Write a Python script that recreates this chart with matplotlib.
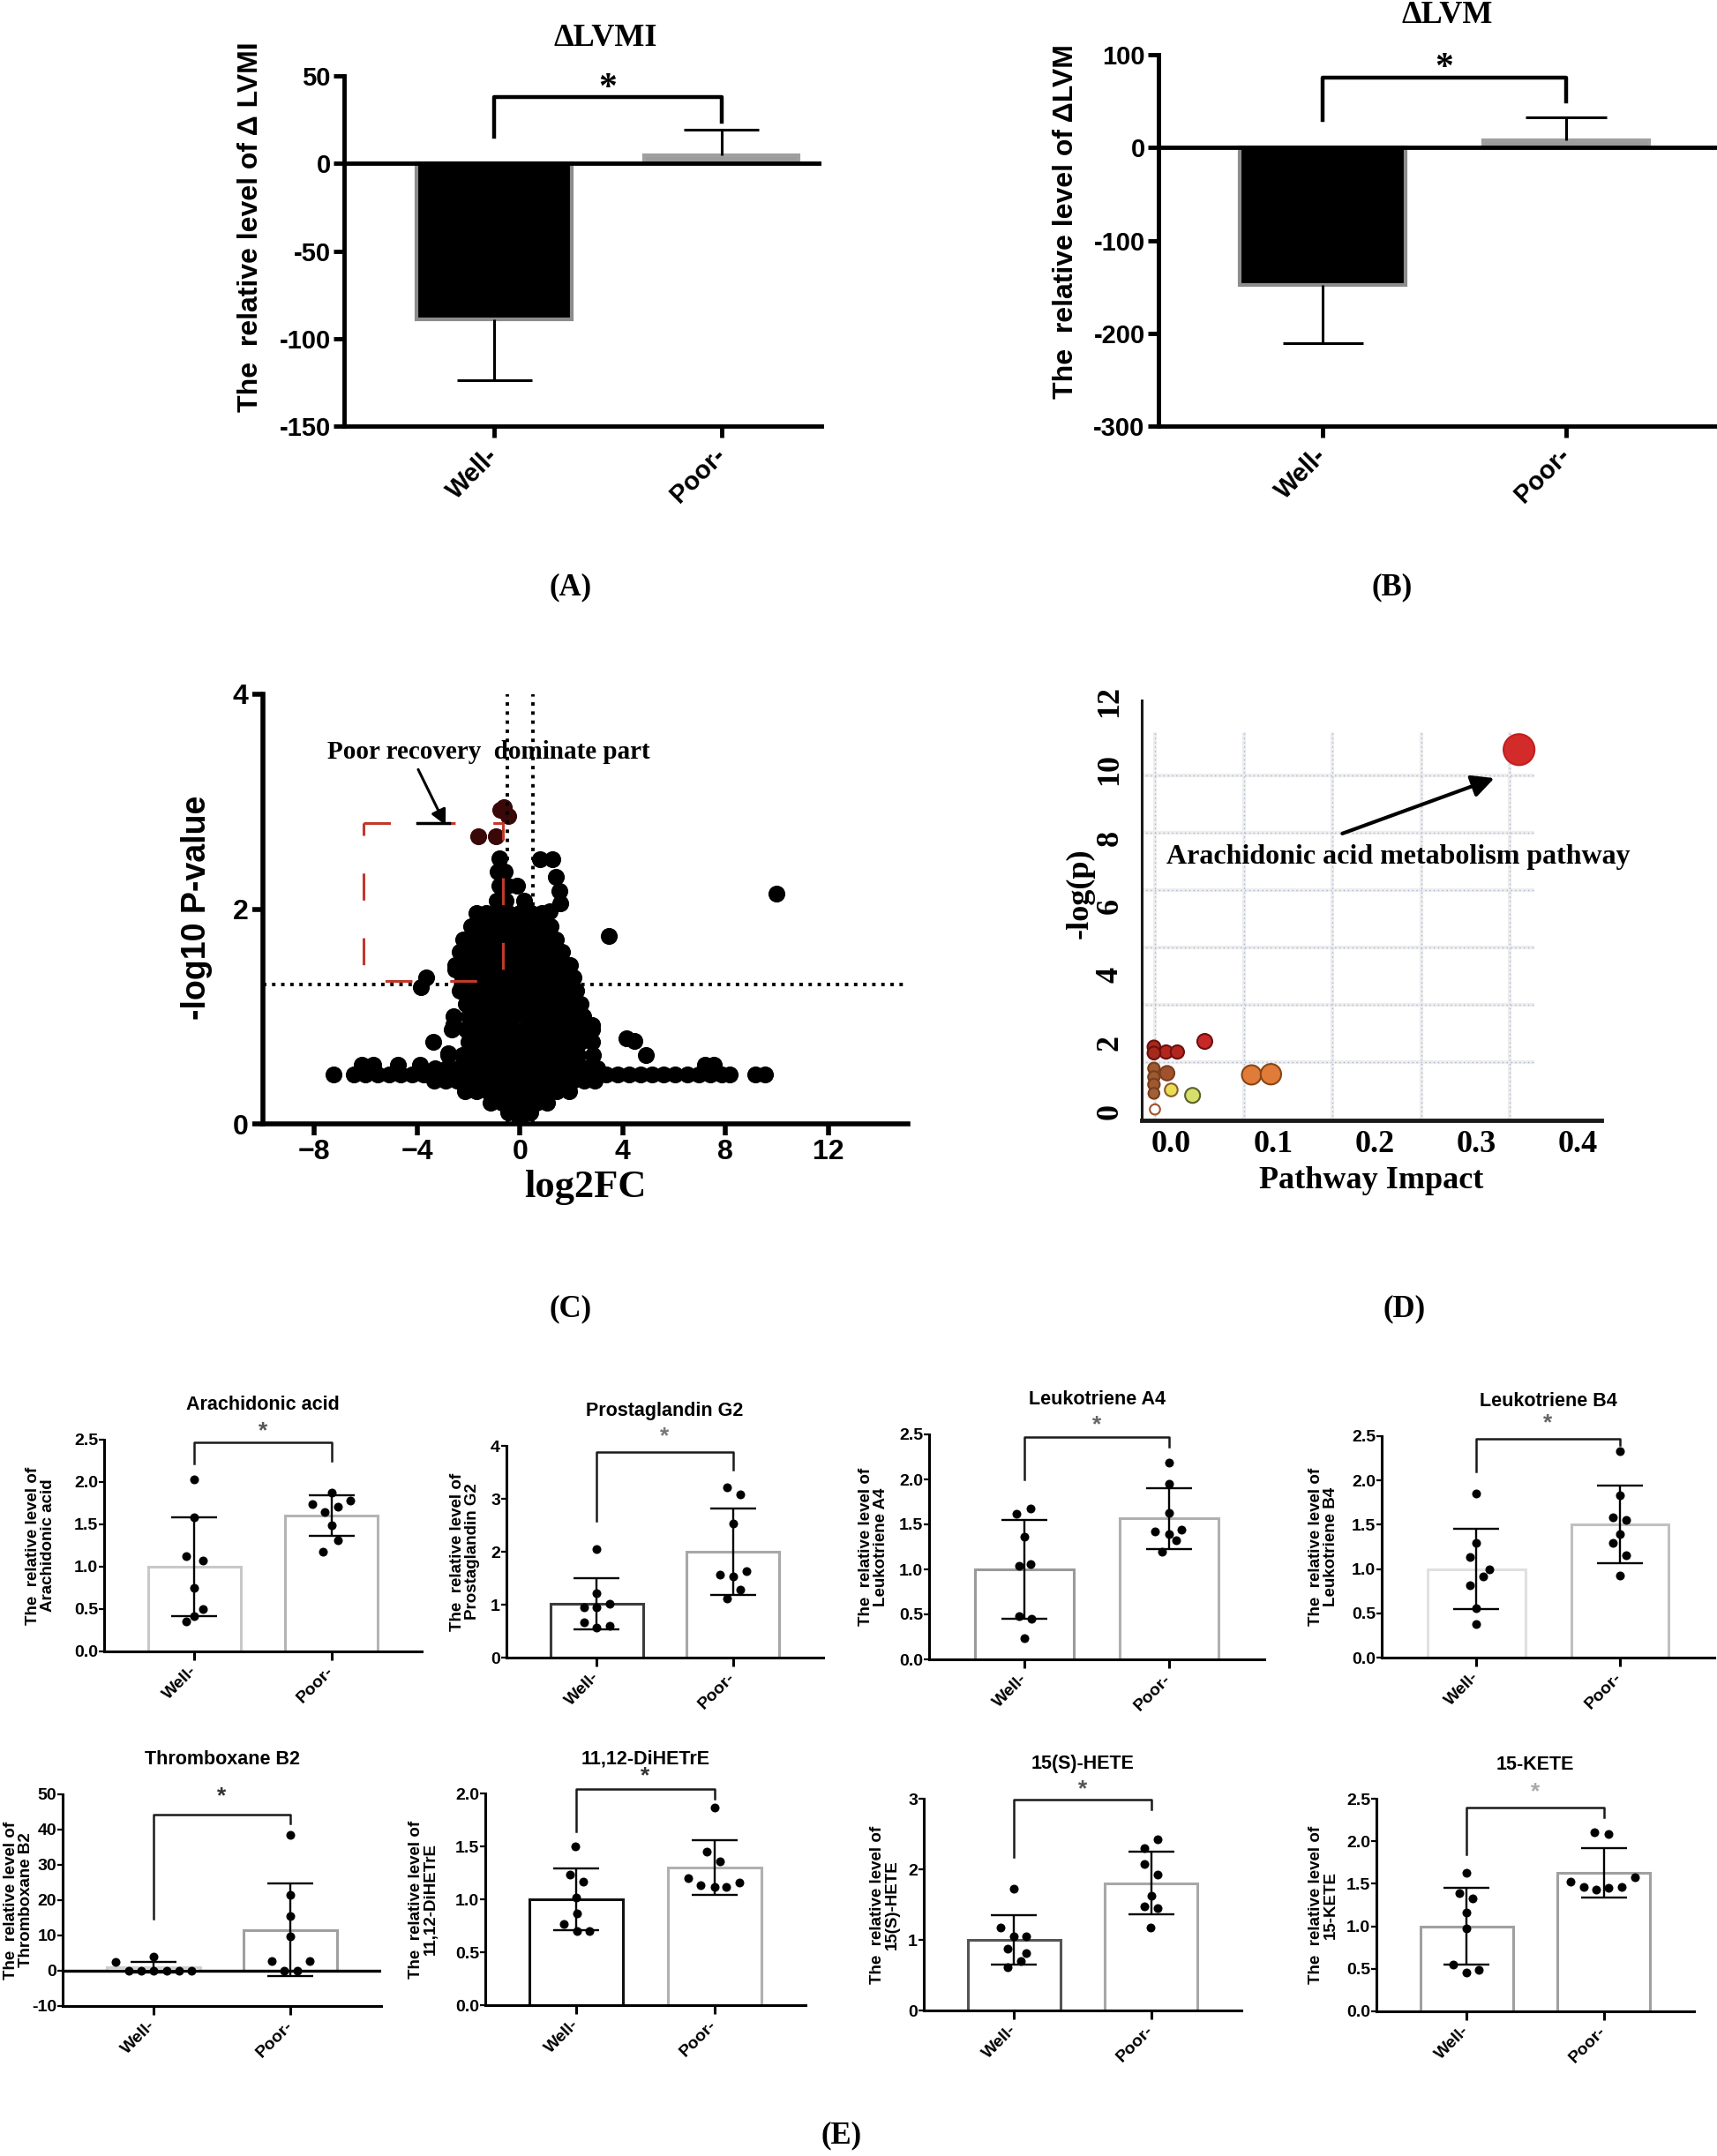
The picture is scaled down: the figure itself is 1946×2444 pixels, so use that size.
import numpy as np
import matplotlib
matplotlib.use("Agg")
import matplotlib.pyplot as plt

W, H = 1946, 2444
SANS = ["Liberation Sans", "DejaVu Sans"]
SERIF = ["Liberation Serif", "DejaVu Serif"]
plt.rcParams["font.family"] = SANS
plt.rcParams["font.weight"] = "bold"

# ======================= DATA =======================
groups = ["Well-", "Poor-"]

# (A) delta LVMI
lvmi_mean = [-89.0, 4.6]
lvmi_err = [35.0, 14.5]
# (B) delta LVM
lvm_mean = [-148.0, 7.5]
lvm_err = [63.0, 25.0]

# (C) volcano plot: rows of log2FC values that share one -log10 P value
volcano_rows = [
    (2.47, [-0.80]),
    (2.35, [-0.85, -0.60]),
    (2.22, [-0.80, -0.50, -0.10]),
    (2.08, [-0.90, -0.55, 0.15]),
    (1.96, [-1.70, -1.30, -0.90, -0.45, 0.00, 0.45, 0.85]),
    (1.84, [-1.90, -1.45, -1.00, -0.55, -0.10, 0.35, 0.80, 1.20]),
    (1.72, [-2.20, -1.75, -1.30, -0.85, -0.40, 0.05, 0.50, 0.95, 1.40]),
    (1.60, [-2.35, -1.90, -1.45, -1.00, -0.55, -0.10, 0.35, 0.80, 1.25, 1.65]),
    (1.48, [-2.50, -2.05, -1.60, -1.15, -0.70, -0.25, 0.20, 0.65, 1.10, 1.55, 1.95]),
    (1.36, [-2.25, -1.80, -1.35, -0.90, -0.45, 0.00, 0.45, 0.90, 1.35, 1.80, 2.10]),
    (1.24, [-2.35, -1.90, -1.45, -1.00, -0.55, -0.10, 0.35, 0.80, 1.25, 1.70, 2.20]),
    (1.12, [-2.10, -1.65, -1.20, -0.75, -0.30, 0.15, 0.60, 1.05, 1.50, 1.95, 2.35]),
    (1.00, [-2.60, -2.00, -1.55, -1.10, -0.65, -0.20, 0.25, 0.70, 1.15, 1.60, 2.05, 2.45]),
    (0.88, [-2.65, -2.10, -1.65, -1.20, -0.75, -0.30, 0.15, 0.60, 1.05, 1.50, 1.95, 2.40, 2.80]),
    (0.76, [-3.37, -2.00, -1.55, -1.10, -0.65, -0.20, 0.25, 0.70, 1.15, 1.60, 2.05, 2.35, 2.80]),
    (0.64, [-2.80, -2.25, -1.80, -1.35, -0.90, -0.45, 0.00, 0.45, 0.90, 1.35, 1.80, 2.25, 2.85]),
    (0.55, [-6.15, -5.70, -4.75, -3.90, 7.20, 7.55]),
    (0.52, [-3.30, -2.85, -2.40, -1.95, -1.50, -1.05, -0.60, -0.15, 0.30, 0.75, 1.20, 1.65,
            2.10, 2.55, 3.00]),
    (0.46, [-7.25, -6.45, -6.00, -5.55, -5.10, -4.65, -4.20, -3.75, 3.35, 3.80, 4.25, 4.70,
            5.15, 5.60, 6.05, 6.50, 6.95, 7.40, 7.85, 8.15, 9.15, 9.55]),
    (0.40, [-3.35, -2.90, -2.45, -2.00, -1.55, -1.10, -0.65, -0.20, 0.25, 0.70, 1.15, 1.60,
            2.05, 2.50, 2.90]),
    (0.30, [-2.15, -1.70, -1.25, -0.80, -0.35, 0.10, 0.55, 1.00, 1.45, 1.90]),
    (0.20, [-1.15, -0.70, -0.25, 0.20, 0.65, 1.05]),
    (0.11, [-0.45, 0.00, 0.40]),
    (0.03, [0.00]),
]
volcano_extra_x = [-3.65, -3.85, 3.46, 10.0, 4.13, 4.45, 4.90, -2.80, -2.60, -2.50,
                   0.77, 1.25, 1.40, 1.52, 1.58, 1.15, 0.19, 2.80]
volcano_extra_y = [1.36, 1.27, 1.75, 2.14, 0.80, 0.77, 0.64, 0.66, 0.93, 1.44,
                   2.46, 2.46, 2.30, 2.17, 2.05, 1.98, 2.02, 0.92]
volcano_top_x = [-1.63, -0.92, -0.77, -0.62, -0.45]
volcano_top_y = [2.68, 2.68, 2.92, 2.95, 2.87]
fc_cut = [-0.5, 0.5]
p_cut = 1.3

# (D) pathway analysis
path_impact = [0.342, 0.033, -0.005, 0.006, -0.017, -0.017, -0.004, -0.017, -0.017,
               -0.017, -0.017, 0.000, 0.021, 0.079, 0.098, -0.016]
path_logp = [10.58, 2.04, 1.73, 1.73, 1.88, 1.70, 1.11, 1.25, 1.00,
             0.78, 0.52, 0.62, 0.46, 1.06, 1.08, 0.05]
path_colors = ["#d32a2a", "#c62828", "#b3261e", "#b3261e", "#a52a1a", "#a52a1a", "#a0522d",
               "#9c5a2e", "#9c5a2e", "#9c5a2e", "#a0603a", "#e8de55", "#d4e06a", "#e07b39",
               "#e07b39", "white"]
path_edges = ["#c02020", "#6d1010", "#6d1010", "#6d1010", "#6d1010", "#6d1010", "#7a3d1f",
              "#7a3d1f", "#7a3d1f", "#7a3d1f", "#7a3d1f", "#8b5a2b", "#5e5e2e", "#8b4513",
              "#8b4513", "#a0522d"]
path_sizes = [640, 150, 120, 120, 110, 110, 140, 90, 90, 90, 80, 110, 150, 250, 280, 70]

# (E) individual metabolites
e_titles = ["Arachidonic acid", "Prostaglandin G2", "Leukotriene A4", "Leukotriene B4",
            "Thromboxane B2", "11,12-DiHETrE", "15(S)-HETE", "15-KETE"]
e_ylabels = ["The  relative level of\nArachidonic acid",
             "The  relative level of\nProstaglandin G2",
             "The  relative level of\nLeukotriene A4",
             "The  relative level of\nLeukotriene B4",
             "The  relative level of\nThromboxane B2",
             "The  relative level of\n11,12-DiHETrE",
             "The  relative level of\n15(S)-HETE",
             "The  relative level of\n15-KETE"]
e_well_mean = [1.00, 1.02, 1.00, 1.00, 1.0, 1.00, 1.00, 1.00]
e_well_sd = [0.58, 0.48, 0.55, 0.455, 1.4, 0.29, 0.35, 0.45]
e_poor_mean = [1.60, 2.00, 1.565, 1.505, 11.6, 1.30, 1.805, 1.63]
e_poor_sd = [0.24, 0.815, 0.335, 0.435, 13.2, 0.26, 0.445, 0.29]
e_well_pts = [
    [2.03, 1.58, 1.12, 1.07, 0.75, 0.50, 0.35, 0.42],
    [2.05, 1.21, 0.95, 0.95, 1.02, 0.67, 0.57, 0.60],
    [1.62, 1.68, 1.36, 1.04, 1.06, 0.48, 0.45, 0.24],
    [1.85, 1.29, 1.14, 1.00, 0.92, 0.82, 0.56, 0.38],
    [2.4, 3.9, 0.1, 0.1, 0.1, 0.1, 0.1, 0.1],
    [1.50, 1.23, 1.17, 1.02, 0.87, 0.77, 0.70, 0.70],
    [1.72, 1.18, 1.05, 1.05, 0.87, 0.81, 0.70, 0.61],
    [1.63, 1.39, 1.33, 1.16, 0.98, 0.55, 0.46, 0.49],
]
e_well_jit = [
    [0.0, 0.0, -0.06, 0.06, 0.0, 0.06, -0.06, 0.0],
    [0.0, 0.0, -0.092, 0.0, 0.095, -0.092, 0.0, 0.095],
    [-0.053, 0.04, 0.0, -0.04, 0.04, -0.04, 0.05, 0.0],
    [0.0, 0.0, -0.047, 0.09, 0.045, -0.047, 0.0, 0.0],
    [-0.275, 0.0, -0.18, -0.09, 0.0, 0.097, 0.19, 0.28],
    [-0.01, -0.045, 0.047, 0.0, 0.004, -0.092, 0.004, 0.095],
    [0.0, -0.097, 0.0, 0.09, -0.05, 0.09, 0.048, -0.05],
    [0.0, -0.054, 0.043, 0.0, 0.0, -0.097, 0.0, 0.09],
]
e_poor_pts = [
    [1.88, 1.78, 1.74, 1.71, 1.65, 1.49, 1.31, 1.18],
    [3.21, 3.09, 2.53, 1.56, 1.54, 1.64, 1.29, 1.11],
    [2.19, 1.95, 1.63, 1.42, 1.44, 1.39, 1.32, 1.20],
    [2.33, 1.83, 1.58, 1.55, 1.39, 1.29, 1.16, 0.93],
    [38.5, 21.4, 15.5, 9.8, 2.8, 2.8, 0.0, 0.0],
    [1.87, 1.45, 1.36, 1.20, 1.13, 1.12, 1.12, 1.16],
    [2.43, 2.30, 2.07, 1.93, 1.62, 1.47, 1.45, 1.18],
    [2.11, 2.08, 1.52, 1.58, 1.46, 1.43, 1.45, 1.46],
]
e_poor_jit = [
    [0.0, 0.14, -0.14, 0.05, -0.05, 0.0, 0.05, -0.06],
    [-0.047, 0.05, 0.0, -0.095, 0.0, 0.097, 0.05, -0.047],
    [0.0, 0.0, 0.0, -0.10, 0.086, 0.0, 0.047, -0.047],
    [0.0, 0.0, -0.047, 0.047, 0.0, -0.047, 0.047, 0.0],
    [0.0, 0.0, 0.0, 0.0, -0.135, 0.14, -0.047, 0.047],
    [0.0, -0.054, 0.04, -0.19, -0.10, 0.0, 0.086, 0.18],
    [0.048, -0.048, -0.048, 0.048, 0.0, -0.048, 0.048, -0.006],
    [-0.065, 0.037, -0.243, 0.226, -0.148, -0.058, 0.037, 0.13],
]
e_yticks = [[0, 0.5, 1.0, 1.5, 2.0, 2.5], [0, 1, 2, 3, 4], [0, 0.5, 1.0, 1.5, 2.0, 2.5],
            [0, 0.5, 1.0, 1.5, 2.0, 2.5], [-10, 0, 10, 20, 30, 40, 50],
            [0, 0.5, 1.0, 1.5, 2.0], [0, 1, 2, 3], [0, 0.5, 1.0, 1.5, 2.0, 2.5]]
e_tickfmt = ["%.1f", "%d", "%.1f", "%.1f", "%d", "%.1f", "%d", "%.1f"]
e_bracket = [(2.22, 2.47, 2.25), (2.58, 3.88, 3.55), (2.00, 2.47, 2.36), (2.10, 2.47, 2.40),
             (14.75, 44.3, 41.8), (1.64, 2.04, 1.95), (2.17, 2.99, 2.85), (1.85, 2.40, 2.28)]
e_star_y = [2.6, 4.17, 2.6, 2.65, 49.3, 2.16, 3.13, 2.58]

# ======================= LAYOUT / STYLE =======================
def rect(l, r, t, b):
    return [l / W, 1 - b / H, (r - l) / W, (b - t) / H]

e_rects = [(118, 478, 1632, 1872), (574, 933, 1639, 1879), (1053, 1433, 1626, 1881),
           (1566, 1943, 1628, 1879), (71, 432, 2034, 2274), (550, 913, 2033, 2273),
           (1047, 1407, 2039, 2279), (1560, 1920, 2039, 2280)]
e_ylab_dx = [72, 47, 63, 66, 50, 70, 44, 60]
e_edges = [("#c8c8c8", "#b4b4b4"), ("#3c3c3c", "#a8a8a8"), ("#9a9a9a", "#b0b0b0"),
           ("#e0e0e0", "#c0c0c0"), ("#d0d0d0", "#a0a0a0"), ("#111111", "#b0b0b0"),
           ("#555555", "#a8a8a8"), ("#a0a0a0", "#a0a0a0")]
e_star_col = ["#555555", "#777777", "#666666", "#666666", "#333333", "#333333", "#555555", "#aaaaaa"]

fig = plt.figure(figsize=(W / 100, H / 100), dpi=100)
fig.patch.set_facecolor("white")


def style_top_axes(ax, lw):
    for s in ["top", "right"]:
        ax.spines[s].set_visible(False)
    for s in ["left", "bottom"]:
        ax.spines[s].set_linewidth(lw)


def draw_top_bar(ax, means, errs, ylim, yticks, xlim, bracket, star_y, ylabel, ylab_dx, ylab_y):
    ax.set_xlim(*xlim)
    ax.set_ylim(*ylim)
    xs = np.arange(len(groups))
    fills = ["black", "#9c9c9c"]
    edges = ["#8c8c8c", "#a0a0a0"]
    for i in range(len(groups)):
        ax.bar(xs[i], means[i], width=0.68, color=fills[i], edgecolor=edges[i],
               linewidth=3, zorder=2)
        end = means[i] + np.sign(means[i]) * errs[i]
        ax.vlines(xs[i], means[i], end, color="black", lw=2.2, zorder=3)
        ax.hlines(end, xs[i] - 0.165, xs[i] + 0.165, color="black", lw=2.2, zorder=3)
    ax.axhline(0, color="black", lw=3.5, zorder=4)
    style_top_axes(ax, 3.5)
    ax.set_yticks(yticks)
    ax.set_yticklabels([str(v) for v in yticks])
    ax.set_xticks(xs)
    ax.set_xticklabels(groups, rotation=45, ha="right", va="center", rotation_mode="anchor")
    ax.tick_params(axis="y", direction="out", length=9, width=3.5, labelsize=21, pad=2)
    ax.tick_params(axis="x", direction="out", length=9, width=3.5, labelsize=21, pad=12)
    b1, b2, b3 = bracket
    ax.plot([0, 0, 1, 1], [b1, b2, b2, b3], color="black", lw=3.2, clip_on=False, zorder=5)
    ax.text(0.5, star_y, "*", ha="center", va="center", fontsize=30, family=SERIF,
            weight="bold", clip_on=False)
    wpx = ax.get_position().width * W
    ax.text(-ylab_dx / wpx, ylab_y, ylabel, rotation=90, ha="center", va="center",
            transform=ax.transAxes, fontsize=23, weight="bold")


# ---------------- (A) ----------------
axA = fig.add_axes(rect(390, 931, 86, 483))
draw_top_bar(axA, lvmi_mean, lvmi_err, (-150, 50), [-150, -100, -50, 0, 50], (-0.66, 1.44),
             (15, 38, 24), 42.5, "The  relative level of \u0394 LVMI", 106, 0.57)
fig.text(686 / W, 1 - 44 / H, "\u0394LVMI", ha="center", va="center", family=SERIF,
         weight="bold", fontsize=26)

# ---------------- (B) ----------------
axB = fig.add_axes(rect(1313, 1946, 62, 483))
draw_top_bar(axB, lvm_mean, lvm_err, (-300, 100), [-300, -200, -100, 0, 100], (-0.675, 1.62),
             (30, 75, 50), 85, "The  relative level of \u0394LVM", 105, 0.55)
fig.text(1640 / W, 1 - 18 / H, "\u0394LVM", ha="center", va="center", family=SERIF,
         weight="bold", fontsize=26)

fig.text(647 / W, 1 - 666 / H, "(A)", ha="center", va="center", family=SERIF,
         weight="bold", fontsize=25)
fig.text(1578 / W, 1 - 666 / H, "(B)", ha="center", va="center", family=SERIF,
         weight="bold", fontsize=25)

# ---------------- (C) volcano ----------------
axC = fig.add_axes(rect(298, 1029, 787, 1274))
axC.set_xlim(-10, 15.1)
axC.set_ylim(0, 4)
vx = [x for y, xs in volcano_rows for x in xs] + volcano_extra_x
vy = [y for y, xs in volcano_rows for x in xs] + volcano_extra_y
axC.scatter(vx, vy, s=190, color="black", linewidths=0, zorder=3)
axC.scatter(volcano_top_x, volcano_top_y, s=190, color="#3a0808", linewidths=0, zorder=4)
axC.axhline(p_cut, color="black", lw=2.8, ls=":", zorder=5)
for c in fc_cut:
    axC.axvline(c, color="black", lw=2.8, ls=":", zorder=5)
axC.plot([-6.1, -0.67, -0.67, -6.1, -6.1], [2.8, 2.8, 1.33, 1.33, 2.8], color="#c0392b",
         lw=2.2, ls=(0, (10, 14)), zorder=6)
axC.plot([-4.0, -2.75], [2.8, 2.8], color="black", lw=2.5, zorder=6)
axC.annotate("", xy=(-2.85, 2.76), xytext=(-4.0, 3.32),
             arrowprops=dict(arrowstyle="-|>", color="black", lw=2.2, mutation_scale=26))
axC.text(-1.2, 3.46, "Poor recovery  dominate part", ha="center", va="center",
         family=SERIF, weight="bold", fontsize=21)
style_top_axes(axC, 4)
axC.set_xticks([-8, -4, 0, 4, 8, 12])
axC.set_yticks([0, 2, 4])
axC.tick_params(axis="both", direction="out", length=9, width=4, labelsize=23, pad=3)
axC.set_xlabel("log2FC", family=SERIF, weight="bold", fontsize=32, labelpad=4)
axC.text(-75 / 731, 0.503, "-log10 P-value", rotation=90, ha="center", va="center",
         transform=axC.transAxes, fontsize=27, weight="bold")

# ---------------- (D) pathway ----------------
GRID_X0, GRID_DX = -0.0156, 0.0871
GRID_Y0, GRID_DY = 1.43, 1.678
axD = fig.add_axes(rect(1294, 1815, 794, 1270))
axD.set_xlim(-0.029, 0.423)
axD.set_ylim(-0.27, 12.02)
gx = GRID_X0 + GRID_DX * np.arange(5)
gy = GRID_Y0 + GRID_DY * np.arange(6)
axD.vlines(gx, -0.27, 11.1, colors="#eeeeee", lw=3, zorder=0)
axD.vlines(gx, -0.27, 11.1, colors="#a9b5d8", lw=1.0, linestyles=(0, (1, 2.5)), zorder=1)
axD.hlines(gy, -0.033, 0.357, colors="#eeeeee", lw=3, zorder=0)
axD.hlines(gy, -0.033, 0.357, colors="#a9b5d8", lw=1.0, linestyles=(0, (1, 2.5)), zorder=1)
axD.scatter(path_impact, path_logp, s=path_sizes, c=path_colors, edgecolors=path_edges,
            linewidths=1.5, zorder=3, clip_on=False)
axD.annotate("", xy=(0.320, 9.77), xytext=(0.166, 8.1),
             arrowprops=dict(arrowstyle="-|>", color="black", lw=3, mutation_scale=38))
axD.text(0.223, 7.43, "Arachidonic acid metabolism pathway", ha="center", va="center",
         family=SERIF, weight="bold", fontsize=23)
for s in ["top", "right"]:
    axD.spines[s].set_visible(False)
axD.spines["left"].set_linewidth(2.2)
axD.spines["left"].set_color("#1a1a1a")
axD.spines["bottom"].set_linewidth(3.5)
axD.spines["bottom"].set_color("#1a1a1a")
dy = [0, 2, 4, 6, 8, 10, 12]
axD.set_yticks(dy)
axD.set_yticklabels([str(v) for v in dy], rotation=90, va="center", family=SERIF,
                    weight="bold", fontsize=26)
dxt = [0.0, 0.1, 0.2, 0.3, 0.4]
axD.set_xticks(dxt)
axD.set_xticklabels(["%.1f" % v for v in dxt], family=SERIF, weight="bold", fontsize=26)
axD.tick_params(axis="y", length=0, pad=14)
axD.tick_params(axis="x", length=0, pad=8)
axD.set_xlabel("Pathway Impact", family=SERIF, weight="bold", fontsize=26, labelpad=6)
axD.text(-70 / 521, 0.54, "-log(p)", rotation=90, ha="center", va="center",
         transform=axD.transAxes, family=SERIF, weight="bold", fontsize=26)

fig.text(647 / W, 1 - 1484 / H, "(C)", ha="center", va="center", family=SERIF,
         weight="bold", fontsize=25)
fig.text(1592 / W, 1 - 1484 / H, "(D)", ha="center", va="center", family=SERIF,
         weight="bold", fontsize=25)

# ---------------- (E) metabolites ----------------
for k in range(len(e_titles)):
    l, r, t, b = e_rects[k]
    ax = fig.add_axes(rect(l, r, t, b))
    wpx, hpx = r - l, b - t
    ticks = e_yticks[k]
    ax.set_xlim(-0.66, 1.66)
    ax.set_ylim(ticks[0], ticks[-1])
    means = [e_well_mean[k], e_poor_mean[k]]
    sds = [e_well_sd[k], e_poor_sd[k]]
    for i in range(2):
        ax.bar(i, means[i], width=0.68, color="white", edgecolor=e_edges[k][i],
               linewidth=2.2, zorder=2)
    if ticks[0] < 0:
        ax.axhline(0, color="black", lw=2.4, zorder=3)
    ax.errorbar([0, 1], means, yerr=sds, fmt="none", ecolor="black", elinewidth=1.7,
                capsize=19, capthick=1.7, zorder=4)
    ax.scatter(np.array(e_well_jit[k]), e_well_pts[k], s=52, color="black", linewidths=0,
               zorder=5)
    ax.scatter(1 + np.array(e_poor_jit[k]), e_poor_pts[k], s=52, color="black",
               linewidths=0, zorder=5)
    b1, b2, b3 = e_bracket[k]
    ax.plot([0, 0, 1, 1], [b1, b2, b2, b3], color="#1a1a1a", lw=1.8, clip_on=False, zorder=6)
    ax.text(0.5, e_star_y[k], "*", ha="center", va="center", fontsize=19, weight="bold",
            color=e_star_col[k], clip_on=False)
    ax.text(0.5, 1 + 39 / hpx, e_titles[k], ha="center", va="center", transform=ax.transAxes,
            fontsize=15.5, weight="bold")
    ax.text(-e_ylab_dx[k] / wpx, 0.5, e_ylabels[k], rotation=90, ha="center", va="center",
            transform=ax.transAxes, fontsize=13.5, weight="bold", linespacing=1.0)
    for s in ["top", "right"]:
        ax.spines[s].set_visible(False)
    for s in ["left", "bottom"]:
        ax.spines[s].set_linewidth(2.2)
    ax.set_yticks(ticks)
    ax.set_yticklabels([e_tickfmt[k] % v for v in ticks])
    ax.set_xticks([0, 1])
    ax.set_xticklabels(groups, rotation=45, ha="right", va="center", rotation_mode="anchor")
    ax.tick_params(axis="y", direction="out", length=4, width=1.6, labelsize=14, pad=1)
    ax.tick_params(axis="x", direction="out", length=7, width=2.2, labelsize=14, pad=7)

fig.text(954 / W, 1 - 2421 / H, "(E)", ha="center", va="center", family=SERIF,
         weight="bold", fontsize=25)

fig.savefig("out.png", dpi=100)
